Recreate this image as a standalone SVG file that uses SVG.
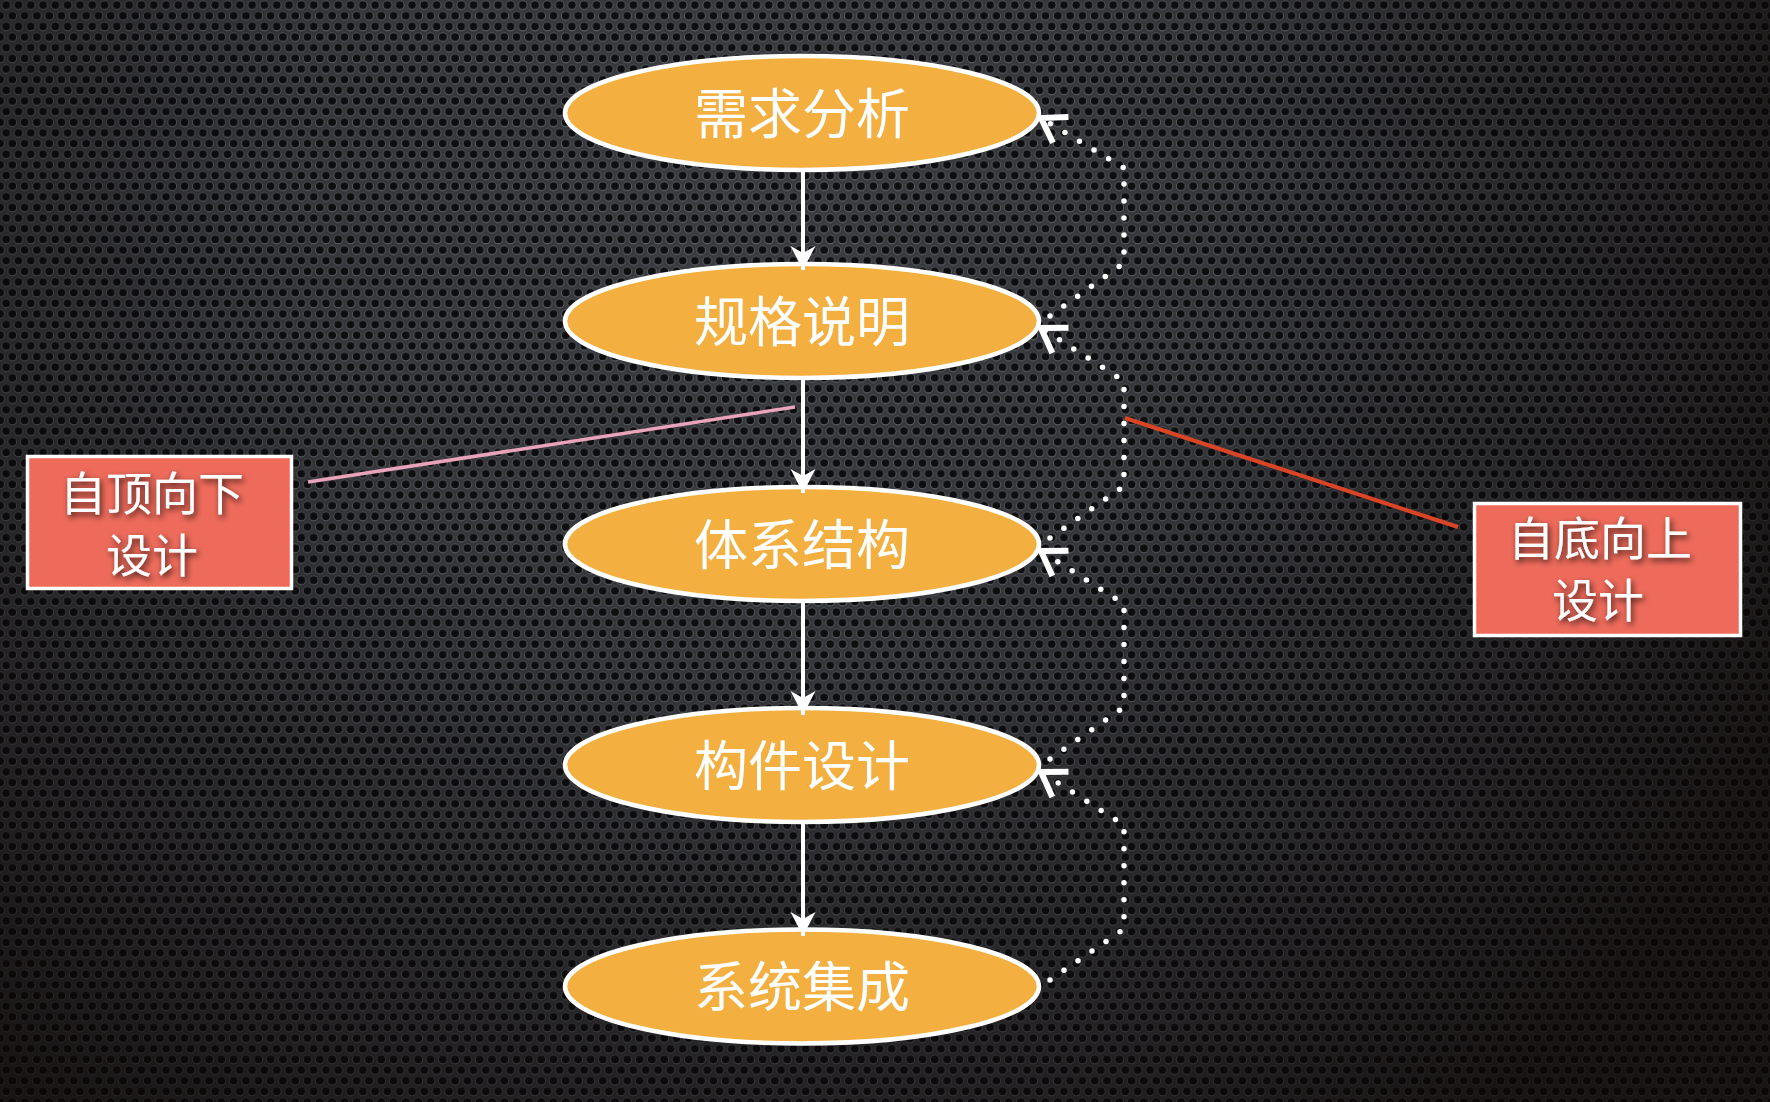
<svg xmlns="http://www.w3.org/2000/svg" width="1770" height="1102" viewBox="0 0 1770 1102">
<defs>
  <pattern id="holes" patternUnits="userSpaceOnUse" width="12.3" height="21.3">
    <rect width="12.3" height="21.3" fill="#3a3b3f"/>
    <g>
      <circle cx="6.15" cy="5.4" r="4.8" fill="#62656b"/>
      <circle cx="6.15" cy="5.0" r="3.9" fill="#0f0f11"/>
      <circle cx="0" cy="16.05" r="4.8" fill="#62656b"/>
      <circle cx="0" cy="15.65" r="3.9" fill="#0f0f11"/>
      <circle cx="12.3" cy="16.05" r="4.8" fill="#62656b"/>
      <circle cx="12.3" cy="15.65" r="3.9" fill="#0f0f11"/>
    </g>
  </pattern>
  <radialGradient id="vignette" gradientUnits="userSpaceOnUse" cx="760" cy="200" r="1150">
    <stop offset="0" stop-color="#000" stop-opacity="0"/>
    <stop offset="0.4" stop-color="#000" stop-opacity="0.1"/>
    <stop offset="0.8" stop-color="#0a0504" stop-opacity="0.5"/>
    <stop offset="1" stop-color="#0a0504" stop-opacity="0.72"/>
  </radialGradient>
  <marker id="solidHead" markerUnits="userSpaceOnUse" viewBox="-26 -14 28 28" refX="0" refY="0" markerWidth="28" markerHeight="28" orient="auto" overflow="visible">
    <path d="M0,0 L-24,-12.5 L-17,0 L-24,12.5 Z" fill="#ffffff"/>
  </marker>
  <marker id="openHead" markerUnits="userSpaceOnUse" viewBox="-32 -22 38 44" refX="0" refY="0" markerWidth="38" markerHeight="44" orient="auto" overflow="visible">
    <path d="M-23,-15 L0,0 L-23,15" fill="none" stroke="#ffffff" stroke-width="6" stroke-linecap="butt" stroke-linejoin="miter"/>
  </marker>
  <filter id="shadow" x="-20%" y="-30%" width="140%" height="160%">
    <feDropShadow dx="2" dy="3" stdDeviation="3" flood-color="#000" flood-opacity="0.75"/>
  </filter>
</defs>
<style>
  .node ellipse { fill: #F3B040; stroke: #ffffff; stroke-width: 4.5; }
  .node text { font-family: "Noto Sans CJK SC", "Noto Sans", sans-serif; font-size: 54px; fill: #ffffff; text-anchor: middle; }
  .box rect { fill: #EE6B5B; stroke: #ffffff; stroke-width: 3.5; }
  .box text { font-family: "Noto Sans CJK SC", "Noto Sans", sans-serif; font-size: 46px; fill: #ffffff; text-anchor: middle; filter: url(#shadow); }
  .flow { stroke: #ffffff; stroke-width: 4; fill: none; marker-end: url(#solidHead); }
  .dots { stroke: #ffffff; stroke-width: 5.5; fill: none; stroke-linecap: round; stroke-dasharray: 0 17; marker-end: url(#openHead); }
</style>

<rect id="background" width="1770" height="1102" fill="url(#holes)"/>
<rect width="1770" height="1102" fill="url(#vignette)"/>

<g id="node-xuqiufenxi" class="node">
  <ellipse cx="802" cy="113" rx="237" ry="57"/>
  <text x="802" y="133.5">需求分析</text>
</g>
<g id="node-guigeshuoming" class="node">
  <ellipse cx="802" cy="321" rx="237" ry="57"/>
  <text x="802" y="341.5">规格说明</text>
</g>
<g id="node-tixijiegou" class="node">
  <ellipse cx="802" cy="544" rx="237" ry="57"/>
  <text x="802" y="564.5">体系结构</text>
</g>
<g id="node-goujiansheji" class="node">
  <ellipse cx="802" cy="765" rx="237" ry="57"/>
  <text x="802" y="785.5">构件设计</text>
</g>
<g id="node-xitongjicheng" class="node">
  <ellipse cx="802" cy="986.5" rx="237" ry="57"/>
  <text x="802" y="1007">系统集成</text>
</g>

<g id="label-top-down" class="box">
  <rect x="27.5" y="456.5" width="264" height="132"/>
  <text x="152" y="509.5">自顶向下</text>
  <text x="152" y="571.5">设计</text>
</g>
<g id="label-bottom-up" class="box">
  <rect x="1474.5" y="503.5" width="266" height="132"/>
  <text x="1600" y="554.5">自底向上</text>
  <text x="1598" y="616.5">设计</text>
</g>

<g id="connectors">
  <line class="flow" x1="803" y1="171" x2="803" y2="270"/>
  <line class="flow" x1="803" y1="379" x2="803" y2="493"/>
  <line class="flow" x1="803" y1="602" x2="803" y2="715"/>
  <line class="flow" x1="803" y1="823" x2="803" y2="936"/>

  <path class="dots" d="M1050,316 L1124,263 L1124,168 L1041,118"/>
  <path class="dots" d="M1050,538 L1124,486 L1124,381 L1041,328"/>
  <path class="dots" d="M1050,759 L1124,707 L1124,604 L1041,551"/>
  <path class="dots" d="M1050,980 L1124,929 L1124,825 L1041,772"/>

  <line x1="308" y1="482" x2="795" y2="407" stroke="#E9A3BB" stroke-width="3.5"/>
  <line x1="1125" y1="418" x2="1458" y2="527" stroke="#DC4426" stroke-width="4"/>
</g>
</svg>
